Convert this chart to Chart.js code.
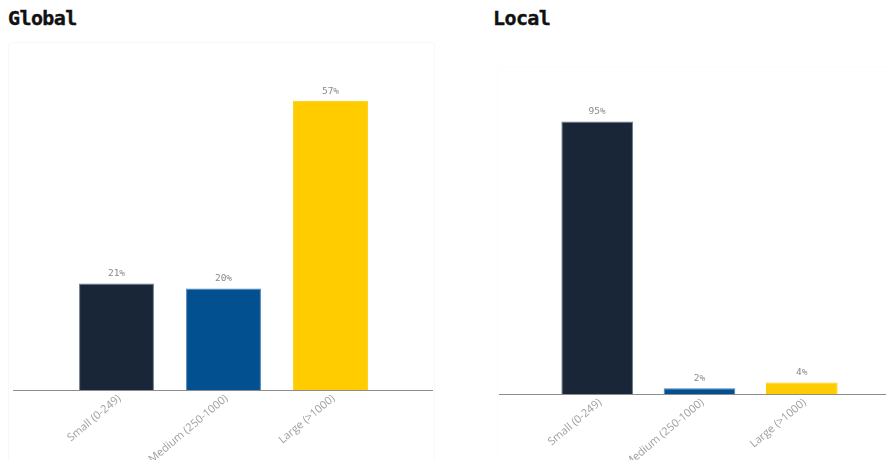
<!DOCTYPE html>
<html>
<head>
<meta charset="utf-8">
<script src="https://cdn.jsdelivr.net/npm/chart.js@4/dist/chart.umd.min.js"></script>
<style>
  html, body { margin: 0; padding: 0; background: #fff; width: 886px; height: 460px; overflow: hidden; position: relative; }
  .title { position: absolute; font-family: "DejaVu Sans Mono", monospace; font-weight: bold; font-size: 20px; color: #111; letter-spacing: -0.6px; -webkit-text-stroke: 0.4px #111; }
  .card { position: absolute; border: 1px solid #f8f8f8; border-radius: 4px; box-sizing: border-box; }
  .card canvas { position: absolute; left: 0; top: 0; }
</style>
</head>
<body>
<div class="title" style="left:8px; top:6px;">Global</div>
<div class="title" style="left:493px; top:6px;">Local</div>
<div class="card" id="globalCard" style="left:8px; top:42px; width:427px; height:430px;"><canvas id="globalChart"></canvas></div>
<div class="card" id="localCard" style="left:497px; top:66px; width:404px; height:406px; border-color:#fcfcfc;"><canvas id="localChart"></canvas></div>
<script>
// Company-size categories and share of respondents (%)
const categories = ["Small (0-249)", "Medium (250-1000)", "Large (>1000)"];
const globalValues = [21, 20, 57];
const localValues = [95, 2, 4];
const barColors = ["#182638", "#02508f", "#ffcc00"];
const barBorders = ["#6b7b8c", "#4b86b8", "#ffcc00"];

// Value labels above each bar
const valueLabels = {
  id: "valueLabels",
  afterDatasetsDraw(chart) {
    const ctx = chart.ctx;
    const meta = chart.getDatasetMeta(0);
    const data = chart.data.datasets[0].data;
    ctx.save();
    ctx.font = "9.5px 'DejaVu Sans Mono', monospace";
    ctx.fillStyle = "#8a8a8a";
    ctx.textAlign = "center";
    ctx.textBaseline = "bottom";
    meta.data.forEach((bar, i) => {
      ctx.fillText(data[i] + "%", bar.x, bar.y - 5);
    });
    ctx.restore();
  }
};

// Baseline spanning the full card width
const baseline = {
  id: "baseline",
  afterDatasetsDraw(chart, args, opts) {
    const ctx = chart.ctx;
    const y = Math.round(chart.scales.y.getPixelForValue(0)) + 0.5;
    ctx.save();
    ctx.strokeStyle = "#8c8c8c";
    ctx.lineWidth = 1;
    ctx.beginPath();
    ctx.moveTo(opts.left, y);
    ctx.lineTo(chart.width - opts.right, y);
    ctx.stroke();
    ctx.restore();
  }
};

function makeChart(id, values, w, h, pad, axisHeight, lineInset) {
  const canvas = document.getElementById(id);
  canvas.style.width = w + "px";
  canvas.style.height = h + "px";
  return new Chart(canvas, {
    type: "bar",
    data: {
      labels: categories,
      datasets: [{
        data: values,
        backgroundColor: barColors,
        borderColor: barBorders,
        borderWidth: 1,
        categoryPercentage: 0.7,
        barPercentage: 1.0
      }]
    },
    options: {
      responsive: false,
      animation: false,
      devicePixelRatio: 1,
      layout: { padding: { left: pad.left, right: pad.right, top: 0, bottom: 0 } },
      plugins: {
        legend: { display: false },
        tooltip: { enabled: false },
        baseline: lineInset
      },
      scales: {
        x: {
          grid: { display: false, drawTicks: false },
          border: { display: false },
          ticks: {
            color: "#a0a0a0",
            font: { family: "'Open Sans', sans-serif", size: 11 },
            minRotation: 40,
            maxRotation: 40,
            padding: 2,
            labelOffset: 3,
            autoSkip: false
          },
          afterFit(scale) { scale.height = axisHeight; }
        },
        y: {
          display: false,
          min: 0,
          max: Math.max(...values) * 1.2
        }
      }
    },
    plugins: [valueLabels, baseline]
  });
}

makeChart("globalChart", globalValues, 425, 418, { left: 54, right: 50 }, 71, { left: 4, right: 1 });
makeChart("localChart", localValues, 402, 394, { left: 48, right: 47 }, 67, { left: 1, right: 0 });
</script>
</body>
</html>
